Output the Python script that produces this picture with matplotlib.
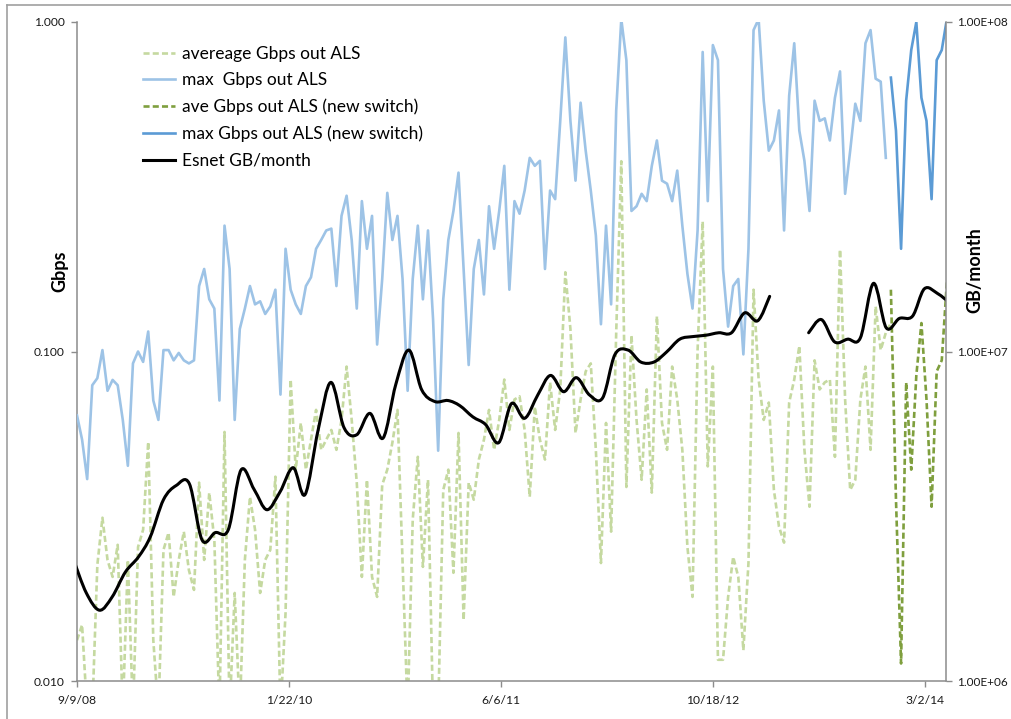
import numpy as np
import pandas as pd
import matplotlib
matplotlib.use("Agg")
import matplotlib.pyplot as plt
import matplotlib.dates as mdates
from matplotlib.path import Path
from matplotlib.patches import PathPatch
from matplotlib.lines import Line2D
from matplotlib.ticker import FixedLocator, FixedFormatter, NullLocator

plt.rcParams['font.family'] = ['Lato', 'DejaVu Sans']

# ---------------- data ----------------
sample_dates = pd.date_range('2008-09-09', periods=172, freq='12D')
month_dates = pd.date_range('2008-09-01', periods=69, freq='MS')

avg_old = [0.0133, 0.0148, 0.008, 0.008, 0.0225, 0.0313, 0.0233, 0.0207, 0.0259, 0.008,
           0.0233, 0.008, 0.0255, 0.0288, 0.0532, 0.0133, 0.008, 0.0250, 0.0282, 0.0180,
           0.0233, 0.0284, 0.0217, 0.0189, 0.0400, 0.0233, 0.0373, 0.0268, 0.008, 0.0570,
           0.008, 0.0185, 0.008, 0.0233, 0.0362, 0.0288, 0.0185, 0.0233, 0.0250, 0.0417,
           0.008, 0.0161, 0.0822, 0.0438, 0.0607, 0.0438, 0.0540, 0.0665, 0.0503, 0.0540,
           0.0578, 0.0503, 0.0620, 0.0900, 0.0620, 0.0400, 0.0207, 0.0408, 0.0207, 0.0180,
           0.0394, 0.0438, 0.0529, 0.0665, 0.0228, 0.008, 0.0309, 0.0479, 0.0222, 0.0408,
           0.008, 0.008, 0.0380, 0.0438, 0.0213, 0.0566, 0.0153, 0.0400, 0.0355, 0.0470,
           0.0540, 0.0665, 0.0503, 0.0620, 0.0822, 0.0578, 0.0715, 0.0731, 0.0578, 0.0362,
           0.0680, 0.0540, 0.0470, 0.0806, 0.0578, 0.0767, 0.174, 0.117, 0.0566, 0.0715,
           0.087, 0.092, 0.0503, 0.0228, 0.0607, 0.0284, 0.114, 0.378, 0.0388, 0.112,
           0.0620, 0.0408, 0.0767, 0.0373, 0.128, 0.0607, 0.0503, 0.0900, 0.0715, 0.0503,
           0.0255, 0.0180, 0.101, 0.248, 0.0448, 0.0900, 0.0116, 0.0116, 0.0180, 0.0238,
           0.0207, 0.0124, 0.0228, 0.154, 0.0822, 0.0620, 0.0700, 0.0380, 0.0294, 0.0263,
           0.0700, 0.0822, 0.104, 0.0503, 0.0338, 0.094, 0.0767, 0.0806, 0.0822, 0.0479,
           0.204, 0.0715, 0.0380, 0.0408, 0.0715, 0.0900, 0.0503, 0.137, 0.101, 0.114,
           0.122]

max_old = [0.064, 0.054, 0.041, 0.079, 0.083, 0.101, 0.076, 0.082, 0.079, 0.062,
           0.045, 0.092, 0.100, 0.093, 0.115, 0.071, 0.062, 0.101, 0.101, 0.094,
           0.099, 0.094, 0.092, 0.094, 0.158, 0.178, 0.144, 0.135, 0.071, 0.241,
           0.178, 0.062, 0.117, 0.135, 0.158, 0.139, 0.142, 0.130, 0.137, 0.154,
           0.074, 0.205, 0.154, 0.139, 0.130, 0.158, 0.168, 0.205, 0.218, 0.233,
           0.236, 0.158, 0.258, 0.297, 0.218, 0.135, 0.286, 0.205, 0.258, 0.105,
           0.166, 0.303, 0.218, 0.258, 0.166, 0.076, 0.166, 0.241, 0.144, 0.233,
           0.125, 0.050, 0.144, 0.218, 0.267, 0.349, 0.178, 0.091, 0.178, 0.218,
           0.149, 0.276, 0.205, 0.267, 0.366, 0.154, 0.286, 0.262, 0.308, 0.387,
           0.366, 0.379, 0.178, 0.308, 0.290, 0.501, 0.898, 0.501, 0.330, 0.569,
           0.407, 0.308, 0.225, 0.121, 0.241, 0.139, 0.539, 1.02, 0.766, 0.267,
           0.276, 0.301, 0.286, 0.366, 0.437, 0.330, 0.323, 0.286, 0.354, 0.241,
           0.172, 0.135, 0.233, 0.811, 0.286, 0.851, 0.766, 0.178, 0.119, 0.158,
           0.166, 0.098, 0.205, 0.945, 1.02, 0.577, 0.407, 0.437, 0.539, 0.233,
           0.597, 0.862, 0.468, 0.379, 0.267, 0.577, 0.501, 0.510, 0.437, 0.589,
           0.708, 0.301, 0.407, 0.565, 0.501, 0.862, 0.945, 0.673, 0.659, 0.387]

avg_new = [0.154, 0.0355, 0.0113, 0.0806, 0.0438, 0.0846, 0.122, 0.0715, 0.0338, 0.087,
           0.094, 0.162]
max_new = [0.678, 0.468, 0.205, 0.577, 0.822, 1.0, 0.589, 0.501, 0.290, 0.766,
           0.822, 1.02]

esnet_gb = [2.33e6, 1.85e6, 1.64e6, 1.80e6, 2.14e6, 2.38e6, 2.74e6, 3.55e6, 3.92e6, 3.97e6,
            2.68e6, 2.82e6, 2.88e6, 4.37e6, 3.81e6, 3.31e6, 3.75e6, 4.44e6, 3.68e6, 5.79e6,
            8.06e6, 5.87e6, 5.59e6, 6.49e6, 5.46e6, 7.94e6, 1.01e7, 7.66e6, 7.05e6, 7.10e6,
            6.85e6, 6.33e6, 6.00e6, 5.29e6, 6.95e6, 6.27e6, 7.38e6, 8.46e6, 7.55e6, 8.33e6,
            7.38e6, 7.23e6, 9.79e6, 1.01e7, 9.29e6, 9.29e6, 9.97e6, 1.09e7, 1.11e7, 1.12e7,
            1.14e7, 1.14e7, 1.31e7, 1.24e7, 1.47e7, np.nan, np.nan, 1.14e7, 1.25e7, 1.07e7,
            1.09e7, 1.10e7, 1.61e7, 1.18e7, 1.26e7, 1.28e7, 1.55e7, 1.50e7, 1.40e7]

series_labels = ['avereage Gbps out ALS', 'max  Gbps out ALS', 'ave Gbps out ALS (new switch)',
                 'max Gbps out ALS (new switch)', 'Esnet GB/month']
tick_dates = ['2008-09-09', '2010-01-22', '2011-06-06', '2012-10-18', '2014-03-02']
tick_labels = ['9/9/08', '1/22/10', '6/6/11', '10/18/12', '3/2/14']
left_ticks = [0.01, 0.1, 1.0]
left_labels = ['0.010', '0.100', '1.000']
right_ticks = [1e6, 1e7, 1e8]
right_labels = ['1.00E+06', '1.00E+07', '1.00E+08']

# ---------------- style ----------------
c_avg = '#C5D9A0'
c_max = '#9DC3E6'
c_avg_new = '#7F9F3E'
c_max_new = '#5B9BD5'
c_axis = '#8C8C8C'
lw_avg = 1.9
lw_max = 1.9

W, H = 1012, 719
fig = plt.figure(figsize=(W / 100, H / 100), dpi=100)
ax = fig.add_axes([77 / W, 1 - 681 / H, (946 - 77) / W, (681 - 22) / H])

n_old_avg = len(avg_old)
n_old_max = len(max_old)
d_avg_old = sample_dates[:n_old_avg]
d_max_old = sample_dates[:n_old_max]
d_avg_new = sample_dates[n_old_avg - 1:n_old_avg - 1 + len(avg_new)]
d_max_new = sample_dates[n_old_max:n_old_max + len(max_new)]

dash = (0, (2.3, 1.2))
ax.plot(d_avg_old, avg_old, color=c_avg, lw=lw_avg, ls=dash, zorder=2)
ax.plot(d_max_old, max_old, color=c_max, lw=lw_max, zorder=3)
ax.plot(d_avg_new, avg_new, color=c_avg_new, lw=lw_avg, ls=dash, zorder=4)
ax.plot(d_max_new, max_new, color=c_max_new, lw=lw_max, zorder=5)

ax.set_yscale('log')
ax.set_ylim(0.01, 1.0)
ax.set_xlim(pd.Timestamp('2008-09-09'), pd.Timestamp('2014-04-21'))
ax.yaxis.set_major_locator(FixedLocator(left_ticks))
ax.yaxis.set_major_formatter(FixedFormatter(left_labels))
ax.yaxis.set_minor_locator(NullLocator())
ax.xaxis.set_major_locator(FixedLocator([mdates.date2num(pd.Timestamp(t)) for t in tick_dates]))
ax.xaxis.set_major_formatter(FixedFormatter(tick_labels))
ax.xaxis.set_minor_locator(NullLocator())

for s in ['top', 'right']:
    ax.spines[s].set_visible(False)
for s in ['left', 'bottom']:
    ax.spines[s].set_color(c_axis)
    ax.spines[s].set_linewidth(1.1)
ax.tick_params(axis='both', direction='out', length=4, width=1, color=c_axis,
               labelsize=8.7, labelcolor='#1a1a1a')
ax.tick_params(axis='y', pad=5)
ax.tick_params(axis='x', pad=6)

# secondary axis with the ESnet volume
ax2 = ax.twinx()
ax2.set_yscale('log')
ax2.set_ylim(1e6, 1e8)
ax2.yaxis.set_major_locator(FixedLocator(right_ticks))
ax2.yaxis.set_major_formatter(FixedFormatter(right_labels))
ax2.yaxis.set_minor_locator(NullLocator())
for s in ['top', 'left', 'bottom']:
    ax2.spines[s].set_visible(False)
ax2.spines['right'].set_color(c_axis)
ax2.spines['right'].set_linewidth(1.1)
ax2.tick_params(axis='y', direction='out', length=4, width=1, color=c_axis,
                labelsize=8.5, labelcolor='#1a1a1a', pad=4)


def smoothed_path(dates, values):
    """Excel-like smoothed line: Catmull-Rom segments as cubic Bezier curves."""
    xs = mdates.date2num(pd.DatetimeIndex(dates).to_pydatetime())
    ys = np.log10(np.asarray(values, dtype=float))
    verts, codes = [], []
    run = []
    runs = []
    for x, y in zip(xs, ys):
        if np.isnan(y):
            if run:
                runs.append(run)
            run = []
        else:
            run.append(np.array([x, y]))
    if run:
        runs.append(run)
    for P in runs:
        n = len(P)
        if n < 2:
            continue
        verts.append(P[0]); codes.append(Path.MOVETO)
        for i in range(n - 1):
            p0 = P[i - 1] if i > 0 else P[i]
            p1 = P[i]
            p2 = P[i + 1]
            p3 = P[i + 2] if i + 2 < n else P[i + 1]
            c1 = p1 + (p2 - p0) / 6.0
            c2 = p2 - (p3 - p1) / 6.0
            verts += [c1, c2, p2]
            codes += [Path.CURVE4] * 3
    v = np.array(verts)
    v[:, 1] = 10 ** v[:, 1]
    return Path(v, codes)


ax2.add_patch(PathPatch(smoothed_path(month_dates, esnet_gb), fill=False,
                        edgecolor='black', lw=2.2, capstyle='round', joinstyle='round'))

# axis titles
fig.text(60 / W, 1 - 271 / H, 'Gbps', rotation=90, fontsize=13, fontweight='bold',
         ha='center', va='center', color='black')
fig.text(975 / W, 1 - 270 / H, 'GB/month', rotation=90, fontsize=13, fontweight='bold',
         ha='center', va='center', color='black')

# legend
handles = [Line2D([], [], color=c_avg, lw=lw_avg, ls=dash),
           Line2D([], [], color=c_max, lw=lw_max),
           Line2D([], [], color=c_avg_new, lw=lw_avg, ls=dash),
           Line2D([], [], color=c_max_new, lw=lw_max),
           Line2D([], [], color='black', lw=2.2)]
fig.legend(handles, series_labels, loc='upper left',
           bbox_to_anchor=(143 / W, 1 - 46 / H), bbox_transform=fig.transFigure,
           frameon=False, fontsize=12.5, handlelength=1.85, handletextpad=0.4,
           labelspacing=0.6, borderpad=0, borderaxespad=0)

# chart-area border (visible top and left edges)
fig.add_artist(Line2D([7 / W, 1], [1 - 4.5 / H, 1 - 4.5 / H], transform=fig.transFigure,
                      color='#A0A0A0', lw=1.2))
fig.add_artist(Line2D([7 / W, 7 / W], [0, 1 - 4.5 / H], transform=fig.transFigure,
                      color='#A0A0A0', lw=1.2))

fig.savefig('out.png', dpi=100)
